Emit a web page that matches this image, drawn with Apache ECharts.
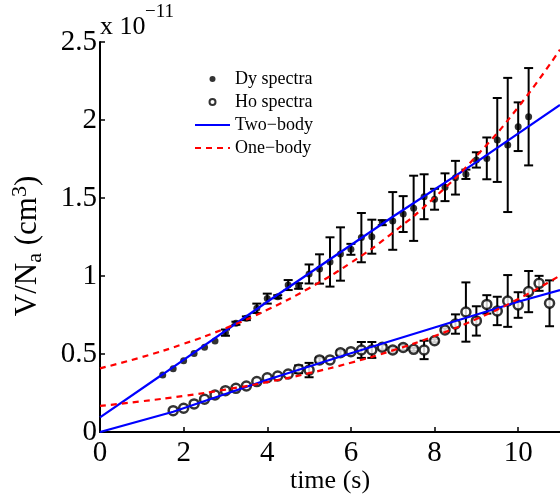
<!DOCTYPE html>
<html><head><meta charset="utf-8">
<script src="https://cdn.jsdelivr.net/npm/echarts@6/dist/echarts.min.js"></script>
<style>html,body{margin:0;padding:0;background:#fff}#c{width:560px;height:495px}</style>
</head><body><div id="c"></div>
<script>
// Dy spectra (filled dots), units of 1e-11 cm^3
const dyTime  = [1.5,1.75,2,2.25,2.5,2.75,3,3.25,3.5,3.75,4,4.25,4.5,4.75,5,5.25,5.5,5.75,6,6.25,6.5,6.75,7,7.25,7.5,7.75,8,8.25,8.5,8.75,9,9.25,9.5,9.75,10,10.25];
const dyValue = [0.365,0.406,0.457,0.504,0.543,0.583,0.637,0.697,0.729,0.793,0.855,0.867,0.942,0.936,1.013,1.045,1.09,1.141,1.171,1.246,1.252,1.342,1.353,1.397,1.434,1.508,1.492,1.569,1.63,1.652,1.744,1.754,1.872,1.84,1.957,2.021];
const dyError = [0,0,0,0,0,0,0.02,0.01,0.012,0.03,0.032,0.01,0.032,0.018,0.061,0.094,0.158,0.171,0.035,0.158,0.109,0.016,0.185,0.115,0.209,0.144,0.067,0.089,0.108,0.03,0.049,0.134,0.269,0.43,0.156,0.312];
// Ho spectra (open circles)
const hoTime  = [1.75,2,2.25,2.5,2.75,3,3.25,3.5,3.75,4,4.25,4.5,4.75,5,5.25,5.5,5.75,6,6.25,6.5,6.75,7,7.25,7.5,7.75,8,8.25,8.5,8.75,9,9.25,9.5,9.75,10,10.25,10.5,10.75];
const hoValue = [0.137,0.152,0.18,0.21,0.237,0.265,0.28,0.295,0.323,0.348,0.359,0.372,0.402,0.397,0.462,0.462,0.508,0.515,0.526,0.526,0.543,0.526,0.542,0.53,0.526,0.585,0.654,0.692,0.769,0.712,0.818,0.776,0.84,0.814,0.9,0.953,0.825];
const hoError = [0,0,0,0,0,0,0,0,0,0,0,0,0.025,0.046,0.015,0,0.015,0,0.051,0.051,0.015,0.015,0.015,0.01,0.059,0.01,0.01,0.062,0.19,0.094,0.059,0.091,0.166,0.082,0.132,0.048,0.147];
// One-body fits
const oneBodyTime = [0,1,2,3,4,5,6,7,8,9,10,11];
const oneBodyDy   = [0.408,0.480,0.565,0.665,0.783,0.922,1.085,1.277,1.503,1.769,2.082,2.451];
const oneBodyHo   = [0.167,0.197,0.231,0.272,0.320,0.377,0.444,0.523,0.615,0.724,0.852,1.003];
// Two-body fits
const twoBodyDyTime = [0,1.5,4,7,9,11];
const twoBodyDy     = [0.094,0.37,0.835,1.38,1.73,2.096];
const twoBodyHoTime = [0,1.75,4,6,8,10,11];
const twoBodyHo     = [0,0.13,0.335,0.505,0.67,0.835,0.91];
const legendNames = ['Dy spectra','Ho spectra','Two\u2212body','One\u2212body'];

const FONT = 'Liberation Serif';
const pair = (xs, ys) => xs.map((t, i) => [t, ys[i]]);
const errData = (xs, ys, es) => xs.map((t, i) => [t, ys[i] - es[i], ys[i] + es[i]]);

function errRender(params, api) {
  const x = api.value(0), lo = api.value(1), hi = api.value(2);
  if (!(hi - lo > 0)) return null;
  const a = api.coord([x, lo]), b = api.coord([x, hi]);
  const w = 4.5;
  const st = { stroke: '#000', lineWidth: 2, fill: null };
  return { type: 'group', children: [
    { type: 'line', shape: { x1: a[0], y1: a[1], x2: b[0], y2: b[1] }, style: st },
    { type: 'line', shape: { x1: a[0] - w, y1: a[1], x2: a[0] + w, y2: a[1] }, style: st },
    { type: 'line', shape: { x1: b[0] - w, y1: b[1], x2: b[0] + w, y2: b[1] }, style: st }
  ]};
}

const chart = echarts.init(document.getElementById('c'), null, { renderer: 'canvas' });
chart.setOption({
  animation: false,
  backgroundColor: '#fff',
  textStyle: { fontFamily: FONT },
  grid: { left: 100, right: 0, top: 42, bottom: 63, containLabel: false, outerBoundsMode: 'none' },
  legend: {
    data: [
      { name: legendNames[0] },
      { name: legendNames[1] },
      { name: legendNames[2], itemStyle: { opacity: 0 } },
      { name: legendNames[3], itemStyle: { opacity: 0 } }
    ],
    orient: 'vertical', left: 194, top: 70, padding: 0,
    itemWidth: 35, itemHeight: 6, itemGap: 5,
    textStyle: { fontFamily: FONT, fontSize: 18, color: '#000' }
  },
  graphic: [
    { type: 'text', left: 100, top: 14, style: { text: 'x 10', font: '26px "Liberation Serif"', fill: '#000' } },
    { type: 'text', left: 145, top: 3, style: { text: '\u221211', font: '19px "Liberation Serif"', fill: '#000' } }
  ],
  xAxis: {
    type: 'value', min: 0, max: 11, interval: 2,
    name: 'time (s)', nameLocation: 'middle', nameGap: 36, nameMoveOverlap: false,
    nameTextStyle: { fontFamily: FONT, fontSize: 26, color: '#000' },
    axisLine: { show: true, lineStyle: { color: '#000', width: 2 } },
    axisTick: { show: true, inside: true, length: 5, lineStyle: { color: '#000', width: 1.5 } },
    axisLabel: { fontFamily: FONT, fontSize: 29, color: '#000', margin: 7, showMaxLabel: false,
      formatter: v => (v > 10.5 ? '' : String(v)) },
    splitLine: { show: false }
  },
  yAxis: {
    type: 'value', min: 0, max: 2.5, interval: 0.5,
    name: 'V/N{sub|a} (cm{sup|3})', nameLocation: 'middle', nameGap: 54, nameRotate: 90,
    nameTextStyle: { fontFamily: FONT, fontSize: 31, color: '#000', padding: [0, 18, 0, 0],
      rich: {
        sub: { fontFamily: FONT, fontSize: 22, color: '#000', verticalAlign: 'bottom', padding: [15, 0, 0, 0] },
        sup: { fontFamily: FONT, fontSize: 22, color: '#000', verticalAlign: 'top', padding: [0, 0, 15, 0] }
      } },
    axisLine: { show: true, lineStyle: { color: '#000', width: 2 } },
    axisTick: { show: true, inside: true, length: 5, lineStyle: { color: '#000', width: 1.5 } },
    axisLabel: { fontFamily: FONT, fontSize: 29, color: '#000', margin: 3 },
    splitLine: { show: false }
  },
  series: [
    { name: 'errDy', type: 'custom', renderItem: errRender, data: errData(dyTime, dyValue, dyError), encode: { x: 0, y: [1, 2] }, z: 2, silent: true },
    { name: 'errHo', type: 'custom', renderItem: errRender, data: errData(hoTime, hoValue, hoError), encode: { x: 0, y: [1, 2] }, z: 2, silent: true },
    { name: 'Dy spectra', type: 'scatter', data: pair(dyTime, dyValue), symbol: 'circle', symbolSize: 7,
      itemStyle: { color: '#000' }, z: 3 },
    { name: 'Ho spectra', type: 'scatter', data: pair(hoTime, hoValue), symbol: 'circle', symbolSize: 9,
      itemStyle: { color: '#fff', borderColor: '#000', borderWidth: 2.5 }, z: 3 },
    { name: 'Two\u2212body', type: 'line', data: pair(twoBodyDyTime, twoBodyDy), symbol: 'none',
      lineStyle: { color: '#0000ff', width: 2.2 }, itemStyle: { color: '#0000ff' }, z: 4 },
    { name: 'Two\u2212body', type: 'line', data: pair(twoBodyHoTime, twoBodyHo), symbol: 'none',
      lineStyle: { color: '#0000ff', width: 2.2 }, itemStyle: { color: '#0000ff' }, z: 4 },
    { name: 'One\u2212body', type: 'line', data: pair(oneBodyTime, oneBodyDy), symbol: 'none', smooth: true,
      lineStyle: { color: '#ff0000', width: 2.2, type: [6, 5] }, itemStyle: { color: '#ff0000' }, z: 5 },
    { name: 'One\u2212body', type: 'line', data: pair(oneBodyTime, oneBodyHo), symbol: 'none', smooth: true,
      lineStyle: { color: '#ff0000', width: 2.2, type: [6, 5] }, itemStyle: { color: '#ff0000' }, z: 5 }
  ]
});
</script>
</body></html>
